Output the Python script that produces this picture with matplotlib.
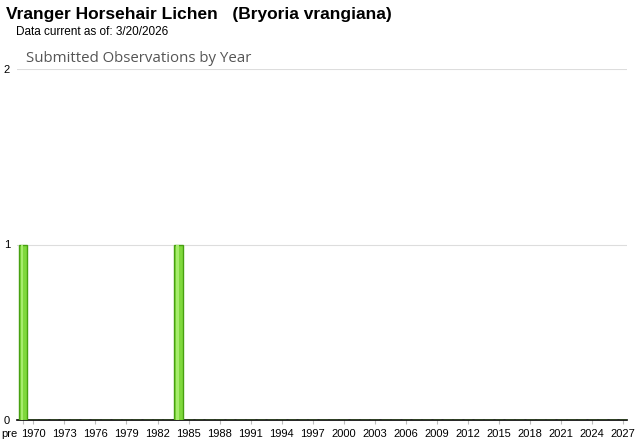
import numpy as np
import matplotlib.pyplot as plt
from matplotlib.transforms import ScaledTranslation

plt.rcParams['font.family'] = ['Liberation Sans', 'DejaVu Sans']

categories = ['pre'] + [str(y) for y in range(1970, 2028)]
counts = np.zeros(len(categories))
obs_years = ['pre', '1984']
obs_counts = [1, 1]
for yr, c in zip(obs_years, obs_counts):
    counts[categories.index(yr)] = c

fig = plt.figure(figsize=(6.4, 4.42), dpi=100)
ax = fig.add_axes([17 / 640, 22 / 442, 610 / 640, 351 / 442])

x = np.arange(len(categories))
ax.bar(x, counts, width=0.85, color='#7fd83c', edgecolor='#47a010', linewidth=1.0, zorder=3)
# light highlight stripe on each bar
ax.bar(x - 0.1, counts, width=0.25, color='#a6ec6c', linewidth=0, zorder=4)

ax.set_xlim(-0.58, 58.36)
ax.set_ylim(0, 2)
ax.set_yticks([0, 1, 2])
ax.set_yticklabels(['0', '1', '2'])
ax.yaxis.grid(True, color='#dddddd', linewidth=0.8, zorder=0)

tick_idx = [0] + list(range(1, len(categories), 3))
ax.set_xticks(tick_idx)
ax.set_xticklabels([categories[i] for i in tick_idx])
ax.tick_params(axis='x', length=3, color='#bbbbbb', labelsize=8, pad=3.5)
ax.tick_params(axis='y', length=0, labelsize=8, pad=5)

pre_lbl = ax.get_xticklabels()[0]
pre_lbl.set_horizontalalignment('right')
pre_lbl.set_transform(pre_lbl.get_transform() + ScaledTranslation(-5 / 100, 0, fig.dpi_scale_trans))

for s in ['top', 'right', 'left']:
    ax.spines[s].set_visible(False)
ax.spines['bottom'].set_color('black')
ax.spines['bottom'].set_linewidth(1.2)

fig.text(6 / 640, 1 - 15 / 442, 'Vranger Horsehair Lichen   (Bryoria vrangiana)',
         fontsize=12.5, fontweight='bold', va='center', ha='left')
fig.text(16 / 640, 1 - 32 / 442, 'Data current as of: 3/20/2026',
         fontsize=8.5, va='center', ha='left')
fig.text(26 / 640, 1 - 58 / 442, 'Submitted Observations by Year',
         fontsize=10.8, color='#555555', va='center', ha='left',
         family=['Open Sans', 'DejaVu Sans'])

fig.savefig('out.png', dpi=100)
